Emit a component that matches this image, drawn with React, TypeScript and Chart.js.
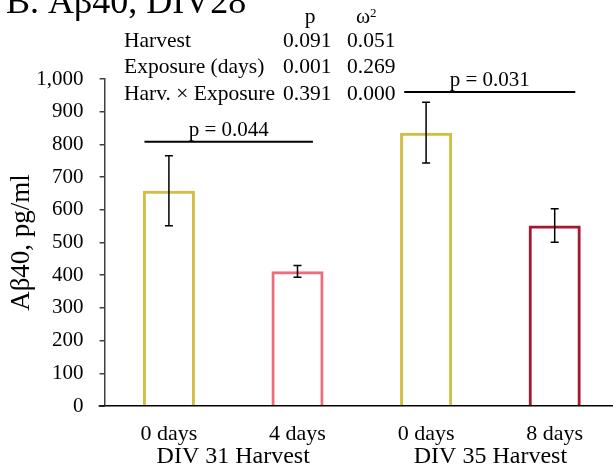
import React, { useEffect, useRef } from 'react';
import { Chart, registerables } from 'chart.js';

Chart.register(...registerables);

// ---- data ----
const categories = ['0 days', '4 days', '0 days', '8 days'];
const groupLabels = ['DIV 31 Harvest', 'DIV 35 Harvest'];
const groupCenters = [0.5, 2.5];
const means = [658, 412, 836, 552];
const sems = [107, 18, 93, 51];
const barColors = ['#D2BD45', '#EE6D7D', '#D2BD45', '#A5182F'];
const yMax = 1000;
const yStep = 100;
const titleText = 'B. A\u03b240, DIV28';
const yTitle = 'A\u03b240, pg/ml';
const tableHeader = ['p', '\u03c9'];
const tableRows = ['Harvest', 'Exposure (days)', 'Harv. \u00d7 Exposure'];
const pValues = ['0.091', '0.001', '0.391'];
const omegaValues = ['0.051', '0.269', '0.000'];
const sigStart = [-0.19, 1.83];
const sigEnd = [1.12, 3.16];
const sigLevel = [808, 960];
const sigLabels = ['p = 0.044', 'p = 0.031'];

const SERIF = '"Liberation Serif", "Times New Roman", serif';

const overlay = {
  id: 'overlay',
  afterDatasetsDraw(chart: any) {
    const ctx = chart.ctx;
    const x = chart.scales.x;
    const y = chart.scales.y;
    ctx.save();
    // error bars
    ctx.strokeStyle = '#000';
    ctx.lineWidth = 1.5;
    means.forEach((m, i) => {
      const px = x.getPixelForValue(i);
      const hi = y.getPixelForValue(m + sems[i]);
      const lo = y.getPixelForValue(m - sems[i]);
      ctx.beginPath();
      ctx.moveTo(px, hi);
      ctx.lineTo(px, lo);
      ctx.moveTo(px - 4, hi);
      ctx.lineTo(px + 4, hi);
      ctx.moveTo(px - 4, lo);
      ctx.lineTo(px + 4, lo);
      ctx.stroke();
    });
    // significance lines
    ctx.lineWidth = 2;
    ctx.fillStyle = '#000';
    ctx.font = `21px ${SERIF}`;
    ctx.textAlign = 'center';
    ctx.textBaseline = 'alphabetic';
    sigLabels.forEach((lab, i) => {
      const x0 = x.getPixelForValue(sigStart[i]);
      const x1 = x.getPixelForValue(sigEnd[i]);
      const py = y.getPixelForValue(sigLevel[i]);
      ctx.beginPath();
      ctx.moveTo(x0, py);
      ctx.lineTo(x1, py);
      ctx.stroke();
      ctx.fillText(lab, (x0 + x1) / 2, py - 6);
    });
    ctx.restore();
  },
  afterDraw(chart: any) {
    const ctx = chart.ctx;
    const x = chart.scales.x;
    const area = chart.chartArea;
    ctx.save();
    ctx.fillStyle = '#000';
    // x-axis stub left of y-axis
    ctx.strokeStyle = '#000';
    ctx.lineWidth = 1.5;
    ctx.beginPath();
    ctx.moveTo(area.left - 6, area.bottom);
    ctx.lineTo(area.left, area.bottom);
    ctx.stroke();
    // group labels
    ctx.font = `24px ${SERIF}`;
    ctx.textAlign = 'center';
    ctx.textBaseline = 'alphabetic';
    groupLabels.forEach((g, i) => {
      ctx.fillText(g, x.getPixelForValue(groupCenters[i]), 463);
    });
    // title
    ctx.textAlign = 'left';
    ctx.font = `36px ${SERIF}`;
    ctx.fillText(titleText, 6, 13);
    // table
    ctx.font = `21.5px ${SERIF}`;
    tableRows.forEach((r, i) => {
      const by = 46.5 + i * 26.5;
      ctx.textAlign = 'left';
      ctx.fillText(r, 124, by);
      ctx.fillText(pValues[i], 283, by);
      ctx.fillText(omegaValues[i], 347, by);
    });
    ctx.textAlign = 'center';
    ctx.fillText(tableHeader[0], 310, 23);
    const wOmega = ctx.measureText(tableHeader[1]).width;
    ctx.fillText(tableHeader[1], 363, 23);
    ctx.font = `13px ${SERIF}`;
    ctx.textAlign = 'left';
    ctx.fillText('2', 363 + wOmega / 2, 17);
    ctx.restore();
  },
};

export default function App() {
  const ref = useRef<HTMLCanvasElement>(null);
  useEffect(() => {
    if (!ref.current) return;
    const chart = new Chart(ref.current, {
      type: 'bar',
      data: {
        labels: categories,
        datasets: [
          {
            data: means,
            backgroundColor: 'rgba(255,255,255,0)',
            borderColor: barColors,
            borderWidth: 3,
            categoryPercentage: 1,
            barPercentage: 0.405,
          },
        ],
      },
      options: {
        responsive: false,
        animation: false,
        layout: { padding: { left: 0, top: 79, right: 1, bottom: 0 } },
        plugins: {
          legend: { display: false },
          tooltip: { enabled: false },
          title: { display: false },
        },
        scales: {
          x: {
            type: 'category',
            grid: { display: false, drawTicks: false },
            border: { display: true, color: '#000', width: 1.5 },
            ticks: {
              color: '#000',
              font: { family: SERIF, size: 22 },
              padding: 15,
              maxRotation: 0,
              autoSkip: false,
            },
            afterFit(scale: any) {
              scale.height = 64;
            },
          },
          y: {
            min: 0,
            max: yMax,
            grid: {
              display: true,
              drawOnChartArea: false,
              drawTicks: true,
              tickLength: 5,
              color: '#404040',
              lineWidth: 1.5,
            },
            border: { display: true, color: '#404040', width: 1.5 },
            ticks: {
              stepSize: yStep,
              color: '#000',
              font: { family: SERIF, size: 21 },
              padding: 16,
              callback: (v: any) => Number(v).toLocaleString('en-US'),
            },
            title: {
              display: true,
              text: yTitle,
              color: '#000',
              font: { family: SERIF, size: 27 },
              padding: { top: 6, bottom: 0 },
            },
            afterFit(scale: any) {
              scale.width = 104.6;
            },
          },
        },
      },
      plugins: [overlay],
    });
    return () => chart.destroy();
  }, []);
  return (
    <div style={{ position: 'fixed', left: 0, top: 0, width: 613, height: 470, overflow: 'hidden', background: '#fff' }}>
      <canvas ref={ref} width={620} height={470} style={{ width: 620, height: 470, display: 'block' }} />
    </div>
  );
}
